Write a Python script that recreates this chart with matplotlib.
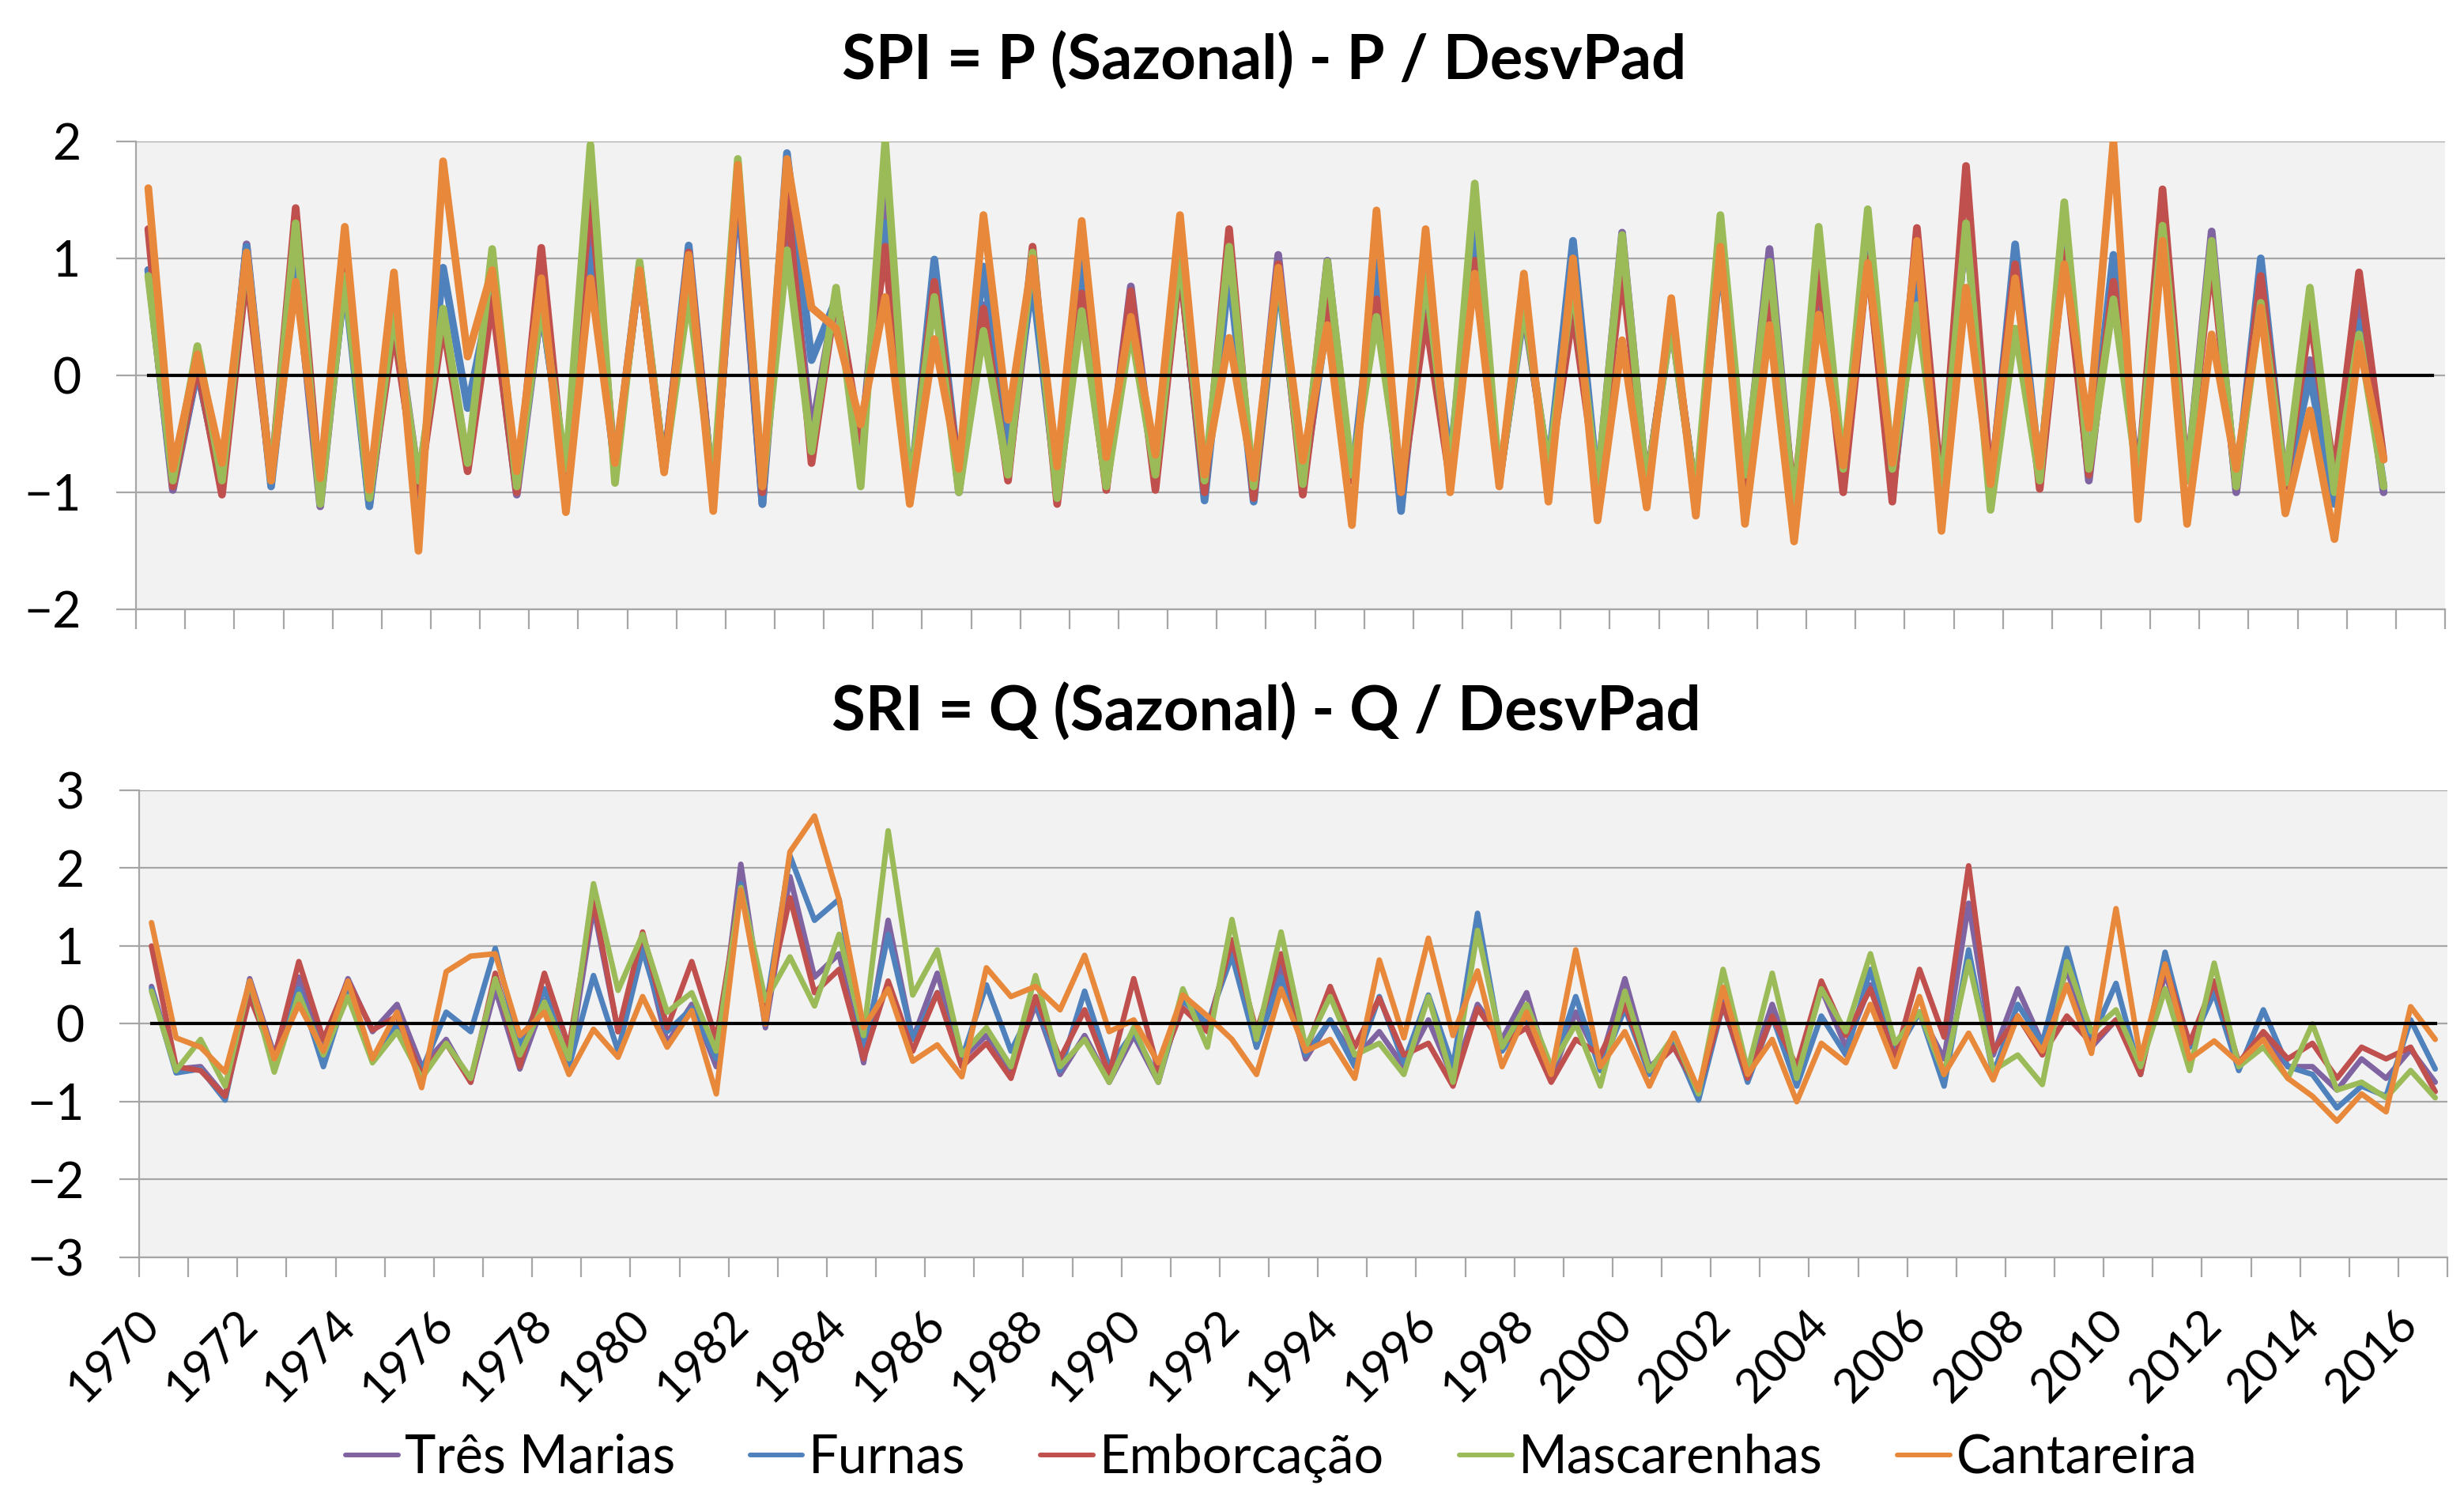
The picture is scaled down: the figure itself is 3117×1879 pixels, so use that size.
import numpy as np
import matplotlib
matplotlib.use("Agg")
import matplotlib.pyplot as plt

# seasonal index, 2 values per year (1970-2016)
stations = ["Três Marias", "Furnas", "Emborcação", "Mascarenhas", "Cantareira"]
colors = ["#8064A2", "#4F81BD", "#C0504D", "#9BBB59", "#E8883A"]

spi_tres_marias = [0.9, -0.98, 0.05, -0.95, 1.12, -0.9, 0.95, -1.12, 0.85, -1.1,
                   0.6, -0.9, 0.5, -0.75, 0.7, -1.02, 0.6, -0.85, 1.2, -0.8,
                   0.95, -0.8, 1.05, -1.05, 1.6, -1.1, 1.45, -0.5, 0.7, -0.65,
                   1.55, -1.05, 0.9, -1.0, 0.6, -0.85, 0.9, -1.0, 0.6, -0.95,
                   0.76, -0.9, 0.95, -1.0, 1.0, -1.0, 1.03, -0.95, 0.98, -0.9,
                   0.8, -1.05, 0.8, -0.9, 1.3, -0.9, 0.6, -0.8, 0.7, -0.95,
                   1.22, -0.95, 0.45, -1.05, 1.1, -0.9, 1.08, -1.15, 0.9, -0.8,
                   1.0, -1.0, 0.9, -1.0, 1.3, -1.0, 0.9, -0.85, 1.3, -0.9,
                   0.9, -0.9, 1.3, -0.9, 1.23, -1.0, 0.75, -0.95, 0.13, -1.05,
                   0.6, -1.0]
spi_furnas = [0.9, -0.95, 0.05, -0.95, 1.1, -0.95, 0.9, -1.0, 0.8, -1.12,
              0.55, -1.15, 0.92, -0.28, 0.75, -0.95, 0.6, -0.85, 1.07, -0.8,
              0.9, -0.8, 1.11, -1.05, 1.65, -1.1, 1.9, 0.13, 0.65, -0.6,
              1.3, -1.05, 0.99, -0.85, 0.93, -0.6, 0.8, -1.0, 1.05, -0.9,
              0.45, -0.85, 1.0, -1.07, 0.9, -1.08, 0.85, -0.95, 0.5, -0.9,
              0.97, -1.16, 0.9, -0.75, 1.3, -0.9, 0.55, -0.8, 1.15, -0.95,
              1.0, -0.95, 0.5, -1.05, 1.0, -0.9, 0.6, -1.15, 0.75, -0.8,
              1.1, -1.0, 0.8, -1.0, 1.3, -1.0, 1.12, -0.85, 1.2, -0.85,
              1.03, -0.9, 1.2, -0.9, 1.1, -0.95, 1.0, -0.95, 0.0, -1.1,
              0.45, -0.95]
spi_emborcacao = [1.25, -0.95, 0.1, -1.02, 0.9, -0.9, 1.43, -1.0, 1.0, -1.05,
                  0.4, -1.0, 0.45, -0.82, 0.65, -1.0, 1.09, -1.0, 1.6, -0.8,
                  0.9, -0.8, 1.05, -1.05, 1.75, -1.0, 1.55, -0.75, 0.7, -0.55,
                  1.1, -1.05, 0.8, -0.85, 0.57, -0.9, 1.1, -1.1, 0.7, -0.98,
                  0.72, -0.98, 0.95, -1.0, 1.25, -1.05, 0.95, -1.02, 0.65, -0.9,
                  0.65, -1.0, 0.5, -0.9, 0.98, -0.9, 0.6, -0.85, 0.55, -0.95,
                  0.9, -0.95, 0.5, -1.05, 1.1, -0.95, 0.7, -1.05, 0.9, -1.0,
                  1.0, -1.08, 1.26, -1.0, 1.79, -0.95, 0.95, -0.97, 1.05, -0.85,
                  0.8, -0.9, 1.59, -0.9, 1.0, -0.95, 0.85, -0.95, 0.5, -0.85,
                  0.88, -0.72]
spi_mascarenhas = [0.85, -0.9, 0.25, -0.9, 1.05, -0.9, 1.3, -1.1, 0.85, -1.05,
                   0.55, -0.9, 0.57, -0.75, 1.08, -0.95, 0.62, -0.8, 1.97, -0.92,
                   0.97, -0.8, 0.7, -0.95, 1.85, -0.95, 1.07, -0.65, 0.75, -0.95,
                   2.0, -1.0, 0.67, -1.0, 0.38, -0.85, 1.05, -1.05, 0.55, -0.95,
                   0.4, -0.85, 1.05, -0.9, 1.1, -0.95, 0.9, -0.93, 0.97, -0.85,
                   0.5, -0.95, 0.85, -0.85, 1.64, -0.9, 0.6, -0.8, 0.8, -0.95,
                   1.2, -0.95, 0.45, -1.05, 1.37, -0.85, 0.97, -1.15, 1.27, -0.8,
                   1.42, -0.8, 0.6, -1.0, 1.3, -1.15, 0.4, -0.9, 1.48, -0.8,
                   0.65, -0.9, 1.28, -0.9, 1.15, -0.95, 0.62, -0.92, 0.75, -1.0,
                   0.35, -0.95]
spi_cantareira = [1.6, -0.8, 0.18, -0.75, 1.05, -0.9, 0.8, -0.88, 1.27, -0.98,
                  0.88, -1.5, 1.83, 0.16, 0.9, -0.82, 0.83, -1.17, 0.83, -0.75,
                  0.9, -0.83, 1.03, -1.16, 1.8, -0.95, 1.85, 0.58, 0.4, -0.42,
                  0.67, -1.1, 0.31, -0.8, 1.37, -0.38, 1.0, -0.78, 1.32, -0.7,
                  0.5, -0.68, 1.37, -0.85, 0.32, -0.88, 0.92, -0.73, 0.43, -1.28,
                  1.41, -1.0, 1.25, -1.0, 0.87, -0.95, 0.87, -1.08, 1.0, -1.24,
                  0.3, -1.13, 0.66, -1.2, 1.1, -1.27, 0.43, -1.42, 0.52, -0.77,
                  0.96, -0.75, 1.15, -1.33, 0.75, -0.93, 0.83, -0.78, 0.95, -0.45,
                  2.0, -1.23, 1.15, -1.27, 0.35, -0.8, 0.58, -1.18, -0.3, -1.4,
                  0.27, -0.72]

sri_tres_marias = [0.48, -0.58, -0.55, -0.93, 0.58, -0.4, 0.6, -0.3, 0.58, -0.1,
                   0.25, -0.55, -0.2, -0.75, 0.45, -0.58, 0.3, -0.5, 1.5, -0.1,
                   1.05, -0.25, 0.25, -0.55, 2.05, -0.05, 1.89, 0.6, 0.9, -0.5,
                   1.33, -0.2, 0.65, -0.45, -0.15, -0.6, 0.25, -0.65, -0.15, -0.75,
                   -0.15, -0.75, 0.35, -0.05, 1.05, -0.3, 0.75, -0.45, 0.05, -0.45,
                   -0.1, -0.55, 0.05, -0.7, 0.25, -0.2, 0.4, -0.7, 0.15, -0.5,
                   0.58, -0.55, -0.3, -0.9, 0.35, -0.7, 0.25, -0.65, 0.45, -0.3,
                   0.5, -0.35, 0.15, -0.45, 1.55, -0.4, 0.45, -0.25, 0.7, -0.3,
                   0.05, -0.6, 0.65, -0.3, 0.5, -0.55, -0.15, -0.55, -0.55, -0.85,
                   -0.45, -0.7, -0.33, -0.75]
sri_furnas = [0.45, -0.63, -0.58, -0.98, 0.5, -0.45, 0.45, -0.55, 0.45, -0.45,
              0.0, -0.6, 0.15, -0.1, 0.97, -0.3, 0.45, -0.55, 0.62, -0.35,
              0.95, -0.1, 0.2, -0.45, 1.8, 0.15, 2.16, 1.33, 1.6, -0.35,
              1.15, -0.2, 0.4, -0.45, 0.5, -0.35, 0.28, -0.6, 0.42, -0.55,
              -0.1, -0.7, 0.3, 0.0, 0.88, -0.3, 0.6, -0.4, 0.05, -0.55,
              0.35, -0.5, 0.37, -0.55, 1.42, -0.35, 0.1, -0.6, 0.35, -0.6,
              0.2, -0.65, -0.25, -0.98, 0.25, -0.75, 0.1, -0.8, 0.1, -0.4,
              0.7, -0.4, 0.15, -0.8, 0.95, -0.65, 0.25, -0.25, 0.97, -0.2,
              0.52, -0.65, 0.92, -0.3, 0.4, -0.6, 0.18, -0.55, -0.65, -1.08,
              -0.8, -0.93, 0.05, -0.58]
sri_emborcacao = [1.0, -0.55, -0.6, -0.93, 0.35, -0.45, 0.8, -0.2, 0.55, -0.08,
                  0.1, -0.65, -0.25, -0.75, 0.65, -0.55, 0.65, -0.3, 1.6, -0.1,
                  1.18, -0.05, 0.8, -0.2, 1.75, 0.2, 1.62, 0.4, 0.7, -0.45,
                  0.55, -0.35, 0.4, -0.55, -0.25, -0.7, 0.35, -0.45, 0.18, -0.65,
                  0.58, -0.6, 0.2, -0.1, 1.08, -0.1, 0.9, -0.35, 0.48, -0.3,
                  0.33, -0.4, -0.25, -0.8, 0.2, -0.25, -0.05, -0.75, -0.2, -0.4,
                  0.25, -0.6, -0.3, -0.85, 0.25, -0.7, 0.1, -0.55, 0.55, -0.15,
                  0.45, -0.45, 0.7, -0.17, 2.03, -0.35, 0.1, -0.4, 0.1, -0.25,
                  0.05, -0.65, 0.75, -0.25, 0.55, -0.5, -0.1, -0.45, -0.25, -0.7,
                  -0.3, -0.45, -0.3, -0.87]
sri_mascarenhas = [0.42, -0.6, -0.2, -0.8, 0.55, -0.62, 0.38, -0.4, 0.35, -0.5,
                   -0.1, -0.7, -0.25, -0.7, 0.58, -0.4, 0.28, -0.45, 1.8, 0.43,
                   1.15, 0.15, 0.4, -0.35, 1.75, 0.3, 0.86, 0.23, 1.15, -0.15,
                   2.48, 0.37, 0.95, -0.4, -0.05, -0.55, 0.62, -0.55, -0.2, -0.75,
                   -0.05, -0.75, 0.45, -0.3, 1.34, -0.2, 1.18, -0.3, 0.35, -0.4,
                   -0.25, -0.65, 0.35, -0.75, 1.2, -0.3, 0.25, -0.55, 0.0, -0.8,
                   0.42, -0.6, -0.15, -0.9, 0.7, -0.6, 0.65, -0.7, 0.45, -0.1,
                   0.9, -0.25, 0.15, -0.65, 0.8, -0.6, -0.4, -0.78, 0.8, -0.1,
                   0.18, -0.55, 0.45, -0.6, 0.78, -0.55, -0.3, -0.7, 0.0, -0.85,
                   -0.75, -0.95, -0.6, -0.95]
sri_cantareira = [1.3, -0.18, -0.3, -0.62, 0.55, -0.45, 0.25, -0.35, 0.55, -0.45,
                  0.15, -0.82, 0.67, 0.87, 0.9, -0.15, 0.15, -0.65, -0.07, -0.43,
                  0.35, -0.3, 0.17, -0.9, 1.72, 0.0, 2.21, 2.67, 1.6, -0.05,
                  0.45, -0.48, -0.27, -0.68, 0.72, 0.35, 0.48, 0.18, 0.88, -0.1,
                  0.05, -0.5, 0.37, 0.1, -0.2, -0.65, 0.45, -0.35, -0.2, -0.7,
                  0.82, -0.18, 1.1, -0.15, 0.68, -0.55, 0.15, -0.65, 0.95, -0.55,
                  -0.1, -0.8, -0.12, -0.85, 0.47, -0.65, -0.2, -1.0, -0.25, -0.5,
                  0.25, -0.55, 0.35, -0.65, -0.12, -0.72, 0.1, -0.35, 0.5, -0.38,
                  1.48, -0.45, 0.77, -0.45, -0.22, -0.5, -0.2, -0.7, -0.93, -1.25,
                  -0.9, -1.13, 0.22, -0.2]

year_labels = ["1970", "1972", "1974", "1976", "1978", "1980", "1982", "1984",
               "1986", "1988", "1990", "1992", "1994", "1996", "1998", "2000",
               "2002", "2004", "2006", "2008", "2010", "2012", "2014", "2016"]

spi = [spi_tres_marias, spi_furnas, spi_emborcacao, spi_mascarenhas, spi_cantareira]
sri = [sri_tres_marias, sri_furnas, sri_emborcacao, sri_mascarenhas, sri_cantareira]
n_slots = len(sri_tres_marias)  # two seasons per year, 1970-2016

plt.rcParams['font.family'] = ['Lato', 'DejaVu Sans']

fig = plt.figure(figsize=(31.17, 18.79), dpi=100)
ax1 = fig.add_axes([0.0552, 0.5897, 0.9371, 0.3151])
ax2 = fig.add_axes([0.0565, 0.1533, 0.9368, 0.3145])

grid_c = "#A6A6A6"


def style_axis(ax, ylim):
    ax.set_facecolor("#F2F2F2")
    ax.set_xlim(-0.5, n_slots - 0.5)
    ax.set_ylim(*ylim)
    ax.set_yticks(np.arange(ylim[0], ylim[1] + 1, 1))
    ax.yaxis.grid(True, color=grid_c, linewidth=1.6)
    ax.set_axisbelow(True)
    for s in ["top", "right"]:
        ax.spines[s].set_visible(False)
    for s in ["left", "bottom"]:
        ax.spines[s].set_color(grid_c)
        ax.spines[s].set_linewidth(1.6)
    ax.set_xticks(np.arange(-0.5, n_slots, 2), minor=True)
    ax.tick_params(axis="x", which="minor", length=18, width=1.6, color=grid_c)
    ax.tick_params(axis="y", which="major", length=18, width=1.6, color=grid_c,
                   labelsize=45, pad=32)


def draw(ax, series, lw):
    lines = []
    for vals, c, name in zip(series, colors, stations):
        x = np.arange(len(vals))
        ln, = ax.plot(x, vals, color=c, lw=lw, label=name,
                      solid_joinstyle="round", solid_capstyle="round")
        lines.append(ln)
    xz = np.arange(n_slots)
    ax.plot(xz, np.zeros(n_slots), color="black", lw=3.0)
    return lines


style_axis(ax1, (-2, 2))
draw(ax1, spi, 7.0)
ax1.set_xticks([])

style_axis(ax2, (-3, 3))
handles = draw(ax2, sri, 5.0)
ax2.set_xticks(np.arange(0, n_slots, 4))
ax2.set_xticklabels(year_labels, rotation=45, ha="right", va="center",
                    rotation_mode="anchor", fontsize=43)
ax2.tick_params(axis="x", which="major", length=0, pad=55)

fig.text(0.513, 0.959, "SPI = P (Sazonal) - P / DesvPad", ha="center", va="center",
         fontsize=56, fontweight="bold")
fig.text(0.514, 0.5205, "SRI = Q (Sazonal) - Q / DesvPad", ha="center", va="center",
         fontsize=56, fontweight="bold")

leg = fig.legend(handles, stations, loc="center", bbox_to_anchor=(0.516, 0.018),
                 ncol=5, frameon=False, fontsize=48, handlelength=1.0,
                 handletextpad=0.12, columnspacing=1.42)
for h in leg.legend_handles:
    h.set_linewidth(4.3)

fig.savefig("out.png", dpi=100)
